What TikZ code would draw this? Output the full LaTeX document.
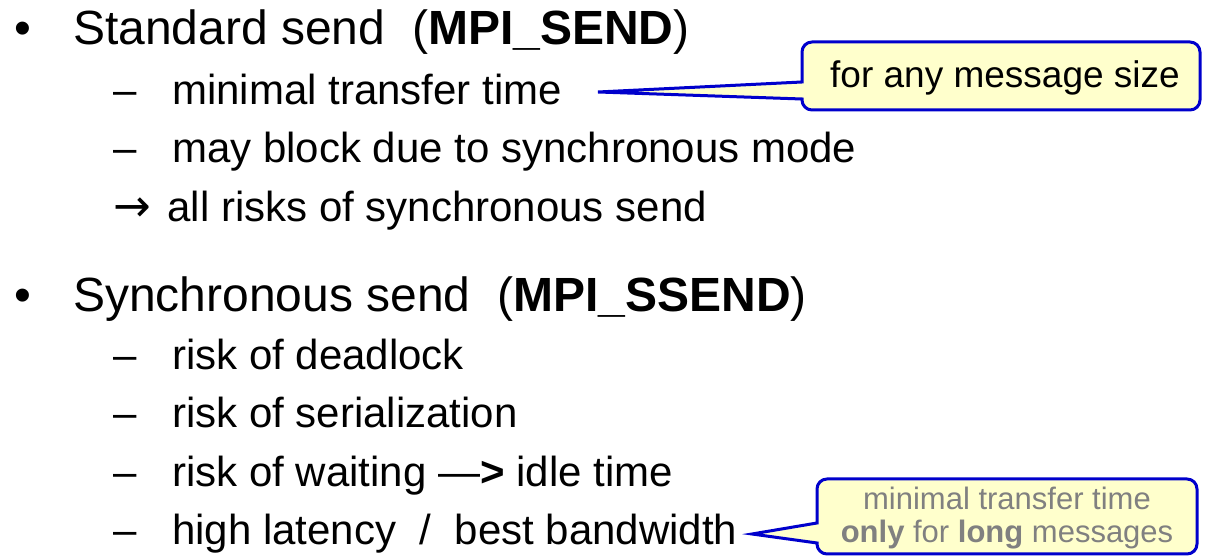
\documentclass[tikz,border=0pt]{standalone}
\usepackage{fontspec}
\setmainfont{Liberation Sans}
\newfontfamily\arrowfont{DejaVu Sans}
\definecolor{cfill}{HTML}{FFFFCC}
\definecolor{cline}{HTML}{0000CC}
\definecolor{cgray}{HTML}{808080}
\begin{document}
\begin{tikzpicture}[x=1pt,y=1pt,
  head/.style={anchor=base west, inner sep=0pt, font=\fontsize{48}{58}\selectfont},
  sub/.style={anchor=base west, inner sep=0pt, font=\fontsize{42}{50}\selectfont},
  callout/.style={draw=cline, fill=cfill, line width=3pt, line join=miter},
  ctext/.style={inner sep=0pt, align=center}]
\useasboundingbox (0,0) rectangle (1208,556);

% first block
\node[head] (b1) at (14,511) {•};
\node[head] (h1) at (73,511) {Standard send\ \ (\textbf{MPI\_SEND})};
\node[sub] (d1) at (113,451) {–};
\node[sub] (s1) at (172,451) {minimal transfer time};
\node[sub] (d2) at (113,393) {–};
\node[sub] (s2) at (172,393) {may block due to synchronous mode};
\node[sub] (s3) at (113,334) {{\arrowfont\fontsize{45}{50}\selectfont →}\hspace{5pt} all risks of synchronous send};

% second block
\node[head] (b2) at (14,244) {•};
\node[head] (h2) at (73,244) {Synchronous send\ \ (\textbf{MPI\_SSEND})};
\node[sub] (d3) at (113,186) {–};
\node[sub] (t1) at (172,186) {risk of deadlock};
\node[sub] (d4) at (113,128) {–};
\node[sub] (t2) at (172,128) {risk of serialization};
\node[sub] (d5) at (113,69) {–};
\node[sub] (t3) at (172,69) {risk of waiting —\textbf{>} idle time};
\node[sub] (d6) at (113,11) {–};
\node[sub] (t4) at (172,11) {high latency\ \ /\ \ best bandwidth};

% callout 1
\coordinate (tip1) at (598,464);
\draw[callout] (802,474) -- (802,504) arc[start angle=180,end angle=90,radius=10]
  -- (1190,514) arc[start angle=90,end angle=0,radius=10]
  -- (1200,456) arc[start angle=0,end angle=-90,radius=10]
  -- (812,446) arc[start angle=-90,end angle=-180,radius=10]
  -- (802,457) -- (tip1) -- cycle;
\node[inner sep=0pt, anchor=base, font=\fontsize{37}{44}\selectfont] (c1) at (1005,468) {for any message size};

% callout 2
\coordinate (tip2) at (752,22);
\draw[callout] (817,33) -- (817,67) arc[start angle=180,end angle=90,radius=10]
  -- (1187,77) arc[start angle=90,end angle=0,radius=10]
  -- (1197,12) arc[start angle=0,end angle=-90,radius=10]
  -- (827,2) arc[start angle=-90,end angle=-180,radius=10]
  -- (817,13) -- (tip2) -- cycle;
\node[ctext, text=cgray, font=\fontsize{31}{33}\selectfont] (c2) at (1007,38) {minimal transfer time\\\textbf{only} for \textbf{long} messages};
\end{tikzpicture}
\end{document}
